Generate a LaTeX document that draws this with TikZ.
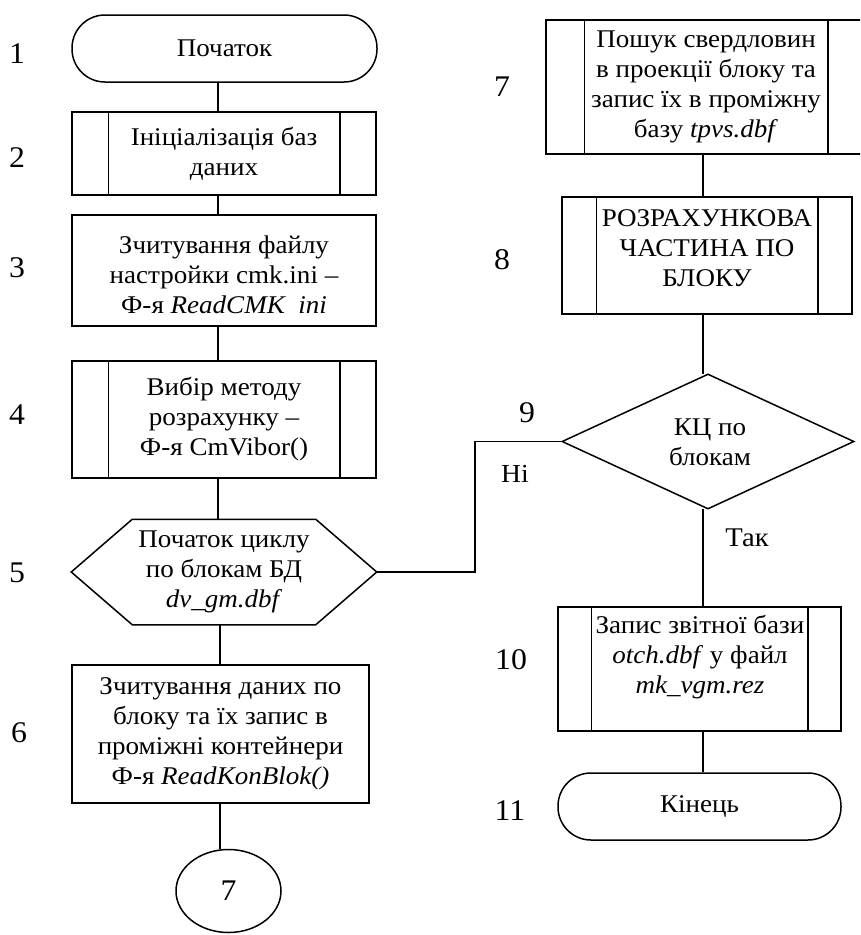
\documentclass[tikz,border=0pt]{standalone}
\usepackage{fontspec}
\setmainfont{Liberation Serif}[FakeStretch=1.06]
\usetikzlibrary{shapes.geometric}
\begin{document}
\begin{tikzpicture}[x=1pt,y=-1pt,line width=1.5pt,
  font=\fontsize{25.5}{30}\selectfont,
  box/.style={draw,rectangle,inner sep=0pt,align=center},
  term/.style={draw,rectangle,rounded corners=33pt,inner sep=0pt,align=center},
  txt/.style={inner sep=0pt,align=center},
  num/.style={inner sep=0pt,font=\fontsize{30}{34}\selectfont},
  ghost/.style={draw=none,rectangle,inner sep=0pt,align=center}]
\useasboundingbox (0,0) rectangle (860,935);
\clip (0,0) rectangle (860,935);
% column coordinates
\coordinate (L) at (218,0);
\coordinate (M) at (220,0);
\coordinate (R) at (703,0);
\coordinate (J) at (475,0);
% left column
\node[term,minimum width=305pt,minimum height=67pt] (b1) at (224.5,48.5) {Початок};
\node[box,minimum width=304pt,minimum height=83pt] (b2) at (224,153.5) {Ініціалізація баз\\даних};
\node[box,minimum width=304pt,minimum height=111pt] (b3) at (224,270.5) {};
\node[txt] (t3) at (224,275) {Зчитування файлу\\настройки cmk.ini –\\Ф-я \textit{ReadCMK\ \ ini}};
\node[box,minimum width=304pt,minimum height=117pt] (b4) at (224,419.5) {Вибір методу\\розрахунку –\\Ф-я CmVibor()};
\node[ghost,minimum width=304pt,minimum height=104pt] (h5) at (224,572) {Початок циклу\\по блокам БД\\\textit{dv\_gm.dbf}};
\draw (h5.west) -- ([xshift=61pt]h5.north west) -- ([xshift=-61pt]h5.north east) -- (h5.east)
  -- ([xshift=-61pt]h5.south east) -- ([xshift=61pt]h5.south west) -- cycle;
\node[box,minimum width=297pt,minimum height=138pt] (b6) at (220.5,734) {Зчитування даних по\\блоку та їх запис в\\проміжні контейнери\\Ф-я \textit{ReadKonBlok()}};
\node[draw,ellipse,minimum width=105pt,minimum height=83pt,inner sep=0pt,font=\fontsize{30}{34}\selectfont] (c7) at (228.5,891) {7};
% right column
\node[box,minimum width=320pt,minimum height=134pt] (b7) at (706,87) {Пошук свердловин\\в проекції блоку та\\запис їх в проміжну\\базу \textit{tpvs.dbf}};
\node[box,minimum width=290pt,minimum height=117pt] (b8) at (707,255.5) {};
\node[txt] (t8) at (707,248) {РОЗРАХУНКОВА\\ЧАСТИНА ПО\\БЛОКУ};
\node[ghost,minimum width=290pt,minimum height=133pt] (d9) at (708,441.5) {};
\draw (d9.west) -- (d9.north) -- (d9.east) -- (d9.south) -- cycle;
\node[txt] (t9) at (710,442) {КЦ по\\блокам};
\node[box,minimum width=283pt,minimum height=124pt] (b10) at (699.5,669) {};
\node[txt] (t10) at (700,657) {Запис звітної бази\\\textit{otch.dbf} у файл\\\textit{mk\_vgm.rez}};
\node[term,minimum width=283pt,minimum height=67pt] (b11) at (699.5,806.5) {Кінець};
% inner lines of predefined-process boxes
\foreach \n/\d in {b2/37,b4/37,b7/39,b8/35,b10/34}{
  \draw ([xshift=\d pt]\n.north west) -- ([xshift=\d pt]\n.south west);
  \draw ([xshift=-\d pt]\n.north east) -- ([xshift=-\d pt]\n.south east);
}
% connectors
\draw (b1.south -| L) -- (b2.north -| L);
\draw (b2.south -| L) -- (b3.north -| L);
\draw (b3.south -| L) -- (b4.north -| L);
\draw (b4.south -| L) -- (h5.north -| L);
\draw (h5.south -| M) -- (b6.north -| M);
\draw (b6.south -| M) -- (c7.north -| M);
\draw (b7.south -| R) -- (b8.north -| R);
\draw (b8.south -| R) -- (d9.north -| R);
\draw (d9.south -| R) -- (b10.north -| R);
\draw (b10.south -| R) -- (b11.north -| R);
\draw (h5.east) -- (h5.east -| J) -- (d9.west -| J) -- (d9.west);
% labels
\node[num] (n1) at (17,54) {1};
\node[num] (n2) at (17,158) {2};
\node[num] (n3) at (17,268) {3};
\node[num] (n4) at (17,415) {4};
\node[num] (n5) at (17,573) {5};
\node[num] (n6) at (19,733) {6};
\node[num] (n7) at (502,87) {7};
\node[num] (n8) at (502,260) {8};
\node[num] (n9) at (527,413) {9};
\node[num] (n10) at (511,660) {10};
\node[num] (n11) at (510,811) {11};
\node[txt,font=\fontsize{26}{30}\selectfont] (ni) at (515,474) {Ні};
\node[txt,font=\fontsize{27}{30}\selectfont] (tak) at (747,538) {Так};
\end{tikzpicture}
\end{document}
